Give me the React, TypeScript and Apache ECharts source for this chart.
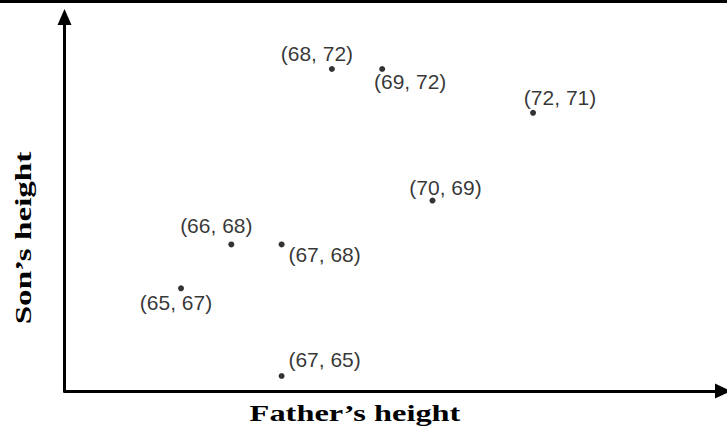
import React, { useEffect, useRef } from "react";
import * as echarts from "echarts";

const fatherHeights = [65, 66, 67, 67, 68, 69, 70, 72];
const sonHeights = [67, 68, 68, 65, 72, 72, 69, 71];
const xAxisTitle = "Father\u2019s height";
const yAxisTitle = "Son\u2019s height";

// label placement relative to each point (styling only)
const labelOffsets: [number, number][] = [
  [-5, 14],
  [-15, -19],
  [43, 10],
  [43, -16],
  [-15, -15],
  [28, 13],
  [13, -13],
  [27, -15],
];

export default function App() {
  const ref = useRef<HTMLDivElement>(null);
  useEffect(() => {
    if (!ref.current) return;
    const chart = echarts.init(ref.current, undefined, { renderer: "svg" });
    const data = fatherHeights.map((f, i) => ({
      value: [f, sonHeights[i]],
      label: { offset: labelOffsets[i] },
    }));
    chart.setOption({
      animation: false,
      backgroundColor: "#ffffff",
      grid: { left: 64.5, right: 4, top: 17, bottom: 45 },
      xAxis: {
        type: "value",
        min: 62.683,
        max: 75.777,
        axisLine: {
          show: true,
          onZero: false,
          symbol: ["none", "triangle"],
          symbolSize: [15, 16],
          lineStyle: { color: "#000", width: 3 },
        },
        axisTick: { show: false },
        axisLabel: { show: false },
        splitLine: { show: false },
      },
      yAxis: {
        type: "value",
        min: 64.658,
        max: 73.185,
        axisLine: {
          show: true,
          onZero: false,
          symbol: ["none", "triangle"],
          symbolSize: [14, 16],
          lineStyle: { color: "#000", width: 3 },
        },
        axisTick: { show: false },
        axisLabel: { show: false },
        splitLine: { show: false },
      },
      series: [
        {
          type: "scatter",
          symbol: "circle",
          symbolSize: 6,
          itemStyle: { color: "#000" },
          data,
          label: {
            show: true,
            position: "inside",
            color: "#000",
            fontFamily: "Liberation Sans, Arial, sans-serif",
            fontSize: 21,
            formatter: (p: any) => `(${p.value[0]}, ${p.value[1]})`,
          },
        },
      ],
      graphic: [
        {
          type: "rect",
          shape: { x: 0, y: 0, width: 727, height: 3 },
          style: { fill: "#000" },
        },
        {
          type: "text",
          x: 355,
          y: 413,
          scaleX: 1.35,
          style: {
            text: xAxisTitle,
            font: "bold 24px 'Liberation Serif', 'Times New Roman', serif",
            fill: "#000",
            textAlign: "center",
            textVerticalAlign: "middle",
          },
        },
        {
          type: "text",
          x: 23,
          y: 238,
          rotation: Math.PI / 2,
          scaleX: 1.38,
          style: {
            text: yAxisTitle,
            font: "bold 24px 'Liberation Serif', 'Times New Roman', serif",
            fill: "#000",
            textAlign: "center",
            textVerticalAlign: "middle",
          },
        },
      ],
    });
    return () => chart.dispose();
  }, []);
  return (
    <div
      ref={ref}
      style={{ position: "fixed", left: 0, top: 0, width: 727, height: 436 }}
    />
  );
}
